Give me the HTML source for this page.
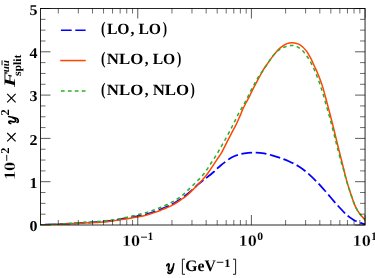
<!DOCTYPE html>
<html><head><meta charset="utf-8"><title>plot</title>
<style>html,body{margin:0;padding:0;background:#fff;}body{width:375px;height:278px;overflow:hidden;}svg{display:block;}text{font-family:"Liberation Serif",serif;font-weight:bold;fill:#000;text-rendering:geometricPrecision;}.it{font-style:italic;}</style></head><body>
<svg width="375" height="278" viewBox="0 0 375 278">
<rect x="0" y="0" width="375" height="278" fill="#fff"/>
<defs><clipPath id="ax"><rect x="40.50" y="8.50" width="324.55" height="216.50"/></clipPath></defs>
<g clip-path="url(#ax)" fill="none" stroke-width="1.5" stroke-linejoin="round">
<path d="M40.50 224.90 C45.75 224.67 62.08 224.02 72.00 223.50 C81.92 222.98 93.20 222.32 100.00 221.80 C106.80 221.28 108.53 221.00 112.80 220.40 C117.07 219.80 121.33 218.93 125.60 218.20 C129.87 217.47 135.17 216.60 138.40 216.00 C141.63 215.40 142.10 215.40 145.00 214.60 C147.90 213.80 152.20 212.50 155.80 211.20 C159.40 209.90 163.57 208.13 166.60 206.80 C169.63 205.47 171.30 204.75 174.00 203.20 C176.70 201.65 179.80 199.68 182.80 197.50 C185.80 195.32 189.57 192.20 192.00 190.10 C194.43 188.00 195.60 186.48 197.40 184.90 C199.20 183.32 201.37 181.72 202.80 180.60 C204.23 179.48 204.20 179.63 206.00 178.20 C207.80 176.77 211.77 173.60 213.60 172.00 C215.43 170.40 215.77 169.73 217.00 168.60 C218.23 167.47 219.77 166.20 221.00 165.20 C222.23 164.20 222.57 163.93 224.40 162.60 C226.23 161.27 229.40 158.58 232.00 157.20 C234.60 155.82 237.33 155.02 240.00 154.30 C242.67 153.58 245.33 153.18 248.00 152.90 C250.67 152.62 253.33 152.52 256.00 152.60 C258.67 152.68 261.33 152.95 264.00 153.40 C266.67 153.85 269.43 154.58 272.00 155.30 C274.57 156.02 276.62 156.72 279.40 157.70 C282.18 158.68 285.58 159.82 288.70 161.20 C291.82 162.58 294.98 164.07 298.10 166.00 C301.22 167.93 304.28 170.17 307.40 172.80 C310.52 175.43 313.68 178.58 316.80 181.80 C319.92 185.02 323.30 188.92 326.10 192.10 C328.90 195.28 331.28 198.25 333.60 200.90 C335.92 203.55 338.00 205.83 340.00 208.00 C342.00 210.17 344.02 212.38 345.60 213.90 C347.18 215.42 347.93 215.97 349.50 217.10 C351.07 218.23 352.92 219.67 355.00 220.70 C357.08 221.73 360.30 222.70 362.00 223.30 C363.70 223.90 364.67 224.13 365.20 224.30" stroke="#0000ff" stroke-width="1.75" stroke-dasharray="10.8 3.6" stroke-dashoffset="9.9"/>
<path d="M40.50 224.90 C42.92 224.83 49.75 224.70 55.00 224.50 C60.25 224.30 66.33 223.98 72.00 223.70 C77.67 223.42 84.33 223.03 89.00 222.80 C93.67 222.57 96.03 222.60 100.00 222.30 C103.97 222.00 108.53 221.57 112.80 221.00 C117.07 220.43 121.33 219.60 125.60 218.90 C129.87 218.20 135.17 217.38 138.40 216.80 C141.63 216.22 143.00 215.90 145.00 215.40 C147.00 214.90 148.60 214.35 150.40 213.80 C152.20 213.25 154.00 212.73 155.80 212.10 C157.60 211.47 159.40 210.72 161.20 210.00 C163.00 209.28 164.88 208.53 166.60 207.80 C168.32 207.07 169.67 206.57 171.50 205.60 C173.33 204.63 175.72 203.20 177.60 202.00 C179.48 200.80 181.30 199.45 182.80 198.40 C184.30 197.35 185.07 197.00 186.60 195.70 C188.13 194.40 190.20 192.35 192.00 190.60 C193.80 188.85 195.60 187.05 197.40 185.20 C199.20 183.35 201.45 181.00 202.80 179.50 C204.15 178.00 204.60 177.33 205.50 176.20 C206.40 175.07 207.03 174.35 208.20 172.70 C209.37 171.05 210.93 168.65 212.50 166.30 C214.07 163.95 216.18 160.70 217.60 158.60 C219.02 156.50 219.83 155.67 221.00 153.70 C222.17 151.73 223.32 149.30 224.60 146.80 C225.88 144.30 227.38 141.28 228.70 138.70 C230.02 136.12 231.35 133.48 232.50 131.30 C233.65 129.12 234.65 127.48 235.60 125.60 C236.55 123.72 237.30 122.00 238.20 120.00 C239.10 118.00 240.27 115.33 241.00 113.60 C241.73 111.87 241.78 111.37 242.60 109.60 C243.42 107.83 244.82 105.08 245.90 103.00 C246.98 100.92 248.13 99.00 249.10 97.10 C250.07 95.20 250.73 93.55 251.70 91.60 C252.67 89.65 253.83 87.43 254.90 85.40 C255.97 83.37 257.03 81.38 258.10 79.40 C259.17 77.42 260.25 75.40 261.30 73.50 C262.35 71.60 263.12 69.98 264.40 68.00 C265.68 66.02 267.55 63.62 269.00 61.60 C270.45 59.58 271.75 57.67 273.10 55.90 C274.45 54.13 275.75 52.45 277.10 51.00 C278.45 49.55 279.85 48.28 281.20 47.20 C282.55 46.12 283.85 45.18 285.20 44.50 C286.55 43.82 288.02 43.38 289.30 43.10 C290.58 42.82 291.78 42.77 292.90 42.80 C294.02 42.83 295.02 43.07 296.00 43.30 C296.98 43.53 297.72 43.62 298.80 44.20 C299.88 44.78 301.25 45.68 302.50 46.80 C303.75 47.92 305.27 49.60 306.30 50.90 C307.33 52.20 307.87 53.20 308.70 54.60 C309.53 56.00 310.37 57.40 311.30 59.30 C312.23 61.20 313.33 63.88 314.30 66.00 C315.27 68.12 316.12 69.72 317.10 72.00 C318.08 74.28 319.18 76.93 320.20 79.70 C321.22 82.47 322.10 84.88 323.20 88.60 C324.30 92.32 325.62 97.55 326.80 102.00 C327.98 106.45 329.15 110.83 330.30 115.30 C331.45 119.77 332.61 124.35 333.72 128.80 C334.83 133.25 335.94 137.97 336.94 142.00 C337.94 146.03 338.93 149.95 339.69 153.00 C340.45 156.05 340.90 157.80 341.52 160.30 C342.14 162.80 342.75 165.32 343.42 168.00 C344.09 170.68 344.83 173.75 345.52 176.40 C346.21 179.05 346.87 181.50 347.57 183.90 C348.27 186.30 349.05 188.68 349.73 190.80 C350.41 192.92 350.95 194.55 351.66 196.60 C352.37 198.65 353.13 201.00 353.98 203.10 C354.83 205.20 355.74 207.33 356.75 209.20 C357.76 211.07 358.63 212.50 360.04 214.30 C361.45 216.10 364.34 219.05 365.20 220.00" stroke="#ff4500" stroke-linecap="square"/>
<path d="M40.50 224.80 C44.08 224.67 57.02 224.25 62.00 224.00 C66.98 223.75 66.73 223.58 70.40 223.30 C74.07 223.02 79.45 222.62 84.00 222.30 C88.55 221.98 94.28 221.63 97.70 221.40 C101.12 221.17 102.20 221.12 104.50 220.90 C106.80 220.68 109.15 220.43 111.50 220.10 C113.85 219.77 116.35 219.32 118.60 218.90 C120.85 218.48 122.77 218.08 125.00 217.60 C127.23 217.12 129.77 216.50 132.00 216.00 C134.23 215.50 136.15 215.13 138.40 214.60 C140.65 214.07 143.23 213.47 145.50 212.80 C147.77 212.13 149.83 211.37 152.00 210.60 C154.17 209.83 156.33 209.05 158.50 208.20 C160.67 207.35 162.93 206.42 165.00 205.50 C167.07 204.58 168.93 203.75 170.90 202.70 C172.87 201.65 174.90 200.42 176.80 199.20 C178.70 197.98 180.58 196.78 182.30 195.40 C184.02 194.02 185.40 192.50 187.10 190.90 C188.80 189.30 190.78 187.47 192.50 185.80 C194.22 184.13 195.77 182.57 197.40 180.90 C199.03 179.23 200.77 177.62 202.30 175.80 C203.83 173.98 205.25 171.95 206.60 170.00 C207.95 168.05 209.12 166.05 210.40 164.10 C211.68 162.15 213.07 160.22 214.30 158.30 C215.53 156.38 216.65 154.55 217.80 152.60 C218.95 150.65 220.07 148.60 221.20 146.60 C222.33 144.60 223.48 142.60 224.60 140.60 C225.72 138.60 226.80 136.65 227.90 134.60 C229.00 132.55 230.15 130.33 231.20 128.30 C232.25 126.27 233.20 124.42 234.20 122.40 C235.20 120.38 236.13 118.28 237.20 116.20 C238.27 114.12 239.45 111.93 240.60 109.90 C241.75 107.87 242.98 105.97 244.10 104.00 C245.22 102.03 246.25 100.20 247.30 98.10 C248.35 96.00 249.32 93.53 250.40 91.40 C251.48 89.27 252.70 87.32 253.80 85.30 C254.90 83.28 255.83 81.28 257.00 79.30 C258.17 77.32 259.53 75.23 260.80 73.40 C262.07 71.57 263.33 70.15 264.60 68.30 C265.87 66.45 267.12 64.25 268.40 62.30 C269.68 60.35 270.93 58.35 272.30 56.60 C273.67 54.85 275.23 53.08 276.60 51.80 C277.97 50.52 279.27 49.65 280.50 48.90 C281.73 48.15 282.83 47.77 284.00 47.30 C285.17 46.83 286.42 46.38 287.50 46.10 C288.58 45.82 289.50 45.70 290.50 45.60 C291.50 45.50 292.43 45.33 293.50 45.50 C294.57 45.67 295.85 46.13 296.90 46.60 C297.95 47.07 298.87 47.63 299.80 48.30 C300.73 48.97 301.33 49.32 302.50 50.60 C303.67 51.88 305.52 54.20 306.80 56.00 C308.08 57.80 309.10 59.43 310.20 61.40 C311.30 63.37 312.40 65.67 313.40 67.80 C314.40 69.93 315.13 71.53 316.20 74.20 C317.27 76.87 318.67 80.53 319.80 83.80 C320.93 87.07 321.83 89.90 323.00 93.80 C324.17 97.70 325.55 102.75 326.80 107.20 C328.05 111.65 329.30 116.03 330.50 120.50 C331.70 124.97 332.87 129.55 334.00 134.00 C335.13 138.45 336.15 142.70 337.30 147.20 C338.45 151.70 339.93 157.53 340.90 161.00 C341.87 164.47 342.37 165.43 343.10 168.00 C343.83 170.57 344.58 173.75 345.30 176.40 C346.02 179.05 346.71 181.50 347.45 183.90 C348.19 186.30 349.03 188.68 349.73 190.80 C350.43 192.92 350.95 194.55 351.66 196.60 C352.37 198.65 353.13 201.00 353.98 203.10 C354.83 205.20 355.74 207.33 356.75 209.20 C357.76 211.07 358.63 212.50 360.04 214.30 C361.45 216.10 364.34 219.05 365.20 220.00" stroke="#28ae28" stroke-dasharray="3.6 3.35" stroke-dashoffset="-1.0"/>
</g>
<g stroke="#000" fill="none"><line x1="58.31" y1="225.00" x2="58.31" y2="220.00" stroke-width="0.58"/><line x1="58.31" y1="8.50" x2="58.31" y2="13.50" stroke-width="0.58"/><line x1="78.32" y1="225.00" x2="78.32" y2="220.00" stroke-width="0.58"/><line x1="78.32" y1="8.50" x2="78.32" y2="13.50" stroke-width="0.58"/><line x1="92.52" y1="225.00" x2="92.52" y2="220.00" stroke-width="0.58"/><line x1="92.52" y1="8.50" x2="92.52" y2="13.50" stroke-width="0.58"/><line x1="103.54" y1="225.00" x2="103.54" y2="220.00" stroke-width="0.58"/><line x1="103.54" y1="8.50" x2="103.54" y2="13.50" stroke-width="0.58"/><line x1="112.54" y1="225.00" x2="112.54" y2="220.00" stroke-width="0.58"/><line x1="112.54" y1="8.50" x2="112.54" y2="13.50" stroke-width="0.58"/><line x1="120.15" y1="225.00" x2="120.15" y2="220.00" stroke-width="0.58"/><line x1="120.15" y1="8.50" x2="120.15" y2="13.50" stroke-width="0.58"/><line x1="126.74" y1="225.00" x2="126.74" y2="220.00" stroke-width="0.58"/><line x1="126.74" y1="8.50" x2="126.74" y2="13.50" stroke-width="0.58"/><line x1="132.55" y1="225.00" x2="132.55" y2="220.00" stroke-width="0.58"/><line x1="132.55" y1="8.50" x2="132.55" y2="13.50" stroke-width="0.58"/><line x1="137.75" y1="225.00" x2="137.75" y2="215.00" stroke-width="0.65"/><line x1="137.75" y1="8.50" x2="137.75" y2="18.50" stroke-width="0.65"/><line x1="171.96" y1="225.00" x2="171.96" y2="220.00" stroke-width="0.58"/><line x1="171.96" y1="8.50" x2="171.96" y2="13.50" stroke-width="0.58"/><line x1="191.97" y1="225.00" x2="191.97" y2="220.00" stroke-width="0.58"/><line x1="191.97" y1="8.50" x2="191.97" y2="13.50" stroke-width="0.58"/><line x1="206.17" y1="225.00" x2="206.17" y2="220.00" stroke-width="0.58"/><line x1="206.17" y1="8.50" x2="206.17" y2="13.50" stroke-width="0.58"/><line x1="217.19" y1="225.00" x2="217.19" y2="220.00" stroke-width="0.58"/><line x1="217.19" y1="8.50" x2="217.19" y2="13.50" stroke-width="0.58"/><line x1="226.19" y1="225.00" x2="226.19" y2="220.00" stroke-width="0.58"/><line x1="226.19" y1="8.50" x2="226.19" y2="13.50" stroke-width="0.58"/><line x1="233.80" y1="225.00" x2="233.80" y2="220.00" stroke-width="0.58"/><line x1="233.80" y1="8.50" x2="233.80" y2="13.50" stroke-width="0.58"/><line x1="240.39" y1="225.00" x2="240.39" y2="220.00" stroke-width="0.58"/><line x1="240.39" y1="8.50" x2="240.39" y2="13.50" stroke-width="0.58"/><line x1="246.20" y1="225.00" x2="246.20" y2="220.00" stroke-width="0.58"/><line x1="246.20" y1="8.50" x2="246.20" y2="13.50" stroke-width="0.58"/><line x1="251.40" y1="225.00" x2="251.40" y2="215.00" stroke-width="0.65"/><line x1="251.40" y1="8.50" x2="251.40" y2="18.50" stroke-width="0.65"/><line x1="285.61" y1="225.00" x2="285.61" y2="220.00" stroke-width="0.58"/><line x1="285.61" y1="8.50" x2="285.61" y2="13.50" stroke-width="0.58"/><line x1="305.62" y1="225.00" x2="305.62" y2="220.00" stroke-width="0.58"/><line x1="305.62" y1="8.50" x2="305.62" y2="13.50" stroke-width="0.58"/><line x1="319.82" y1="225.00" x2="319.82" y2="220.00" stroke-width="0.58"/><line x1="319.82" y1="8.50" x2="319.82" y2="13.50" stroke-width="0.58"/><line x1="330.84" y1="225.00" x2="330.84" y2="220.00" stroke-width="0.58"/><line x1="330.84" y1="8.50" x2="330.84" y2="13.50" stroke-width="0.58"/><line x1="339.84" y1="225.00" x2="339.84" y2="220.00" stroke-width="0.58"/><line x1="339.84" y1="8.50" x2="339.84" y2="13.50" stroke-width="0.58"/><line x1="347.45" y1="225.00" x2="347.45" y2="220.00" stroke-width="0.58"/><line x1="347.45" y1="8.50" x2="347.45" y2="13.50" stroke-width="0.58"/><line x1="354.04" y1="225.00" x2="354.04" y2="220.00" stroke-width="0.58"/><line x1="354.04" y1="8.50" x2="354.04" y2="13.50" stroke-width="0.58"/><line x1="359.85" y1="225.00" x2="359.85" y2="220.00" stroke-width="0.58"/><line x1="359.85" y1="8.50" x2="359.85" y2="13.50" stroke-width="0.58"/><line x1="365.05" y1="225.00" x2="365.05" y2="215.00" stroke-width="0.65"/><line x1="365.05" y1="8.50" x2="365.05" y2="18.50" stroke-width="0.65"/><line x1="40.50" y1="225.00" x2="50.50" y2="225.00" stroke-width="0.65"/><line x1="365.05" y1="225.00" x2="355.05" y2="225.00" stroke-width="0.65"/><line x1="40.50" y1="214.18" x2="45.50" y2="214.18" stroke-width="0.58"/><line x1="365.05" y1="214.18" x2="360.05" y2="214.18" stroke-width="0.58"/><line x1="40.50" y1="203.35" x2="45.50" y2="203.35" stroke-width="0.58"/><line x1="365.05" y1="203.35" x2="360.05" y2="203.35" stroke-width="0.58"/><line x1="40.50" y1="192.53" x2="45.50" y2="192.53" stroke-width="0.58"/><line x1="365.05" y1="192.53" x2="360.05" y2="192.53" stroke-width="0.58"/><line x1="40.50" y1="181.70" x2="50.50" y2="181.70" stroke-width="0.65"/><line x1="365.05" y1="181.70" x2="355.05" y2="181.70" stroke-width="0.65"/><line x1="40.50" y1="170.88" x2="45.50" y2="170.88" stroke-width="0.58"/><line x1="365.05" y1="170.88" x2="360.05" y2="170.88" stroke-width="0.58"/><line x1="40.50" y1="160.05" x2="45.50" y2="160.05" stroke-width="0.58"/><line x1="365.05" y1="160.05" x2="360.05" y2="160.05" stroke-width="0.58"/><line x1="40.50" y1="149.23" x2="45.50" y2="149.23" stroke-width="0.58"/><line x1="365.05" y1="149.23" x2="360.05" y2="149.23" stroke-width="0.58"/><line x1="40.50" y1="138.40" x2="50.50" y2="138.40" stroke-width="0.65"/><line x1="365.05" y1="138.40" x2="355.05" y2="138.40" stroke-width="0.65"/><line x1="40.50" y1="127.58" x2="45.50" y2="127.58" stroke-width="0.58"/><line x1="365.05" y1="127.58" x2="360.05" y2="127.58" stroke-width="0.58"/><line x1="40.50" y1="116.75" x2="45.50" y2="116.75" stroke-width="0.58"/><line x1="365.05" y1="116.75" x2="360.05" y2="116.75" stroke-width="0.58"/><line x1="40.50" y1="105.93" x2="45.50" y2="105.93" stroke-width="0.58"/><line x1="365.05" y1="105.93" x2="360.05" y2="105.93" stroke-width="0.58"/><line x1="40.50" y1="95.10" x2="50.50" y2="95.10" stroke-width="0.65"/><line x1="365.05" y1="95.10" x2="355.05" y2="95.10" stroke-width="0.65"/><line x1="40.50" y1="84.28" x2="45.50" y2="84.28" stroke-width="0.58"/><line x1="365.05" y1="84.28" x2="360.05" y2="84.28" stroke-width="0.58"/><line x1="40.50" y1="73.45" x2="45.50" y2="73.45" stroke-width="0.58"/><line x1="365.05" y1="73.45" x2="360.05" y2="73.45" stroke-width="0.58"/><line x1="40.50" y1="62.62" x2="45.50" y2="62.62" stroke-width="0.58"/><line x1="365.05" y1="62.62" x2="360.05" y2="62.62" stroke-width="0.58"/><line x1="40.50" y1="51.80" x2="50.50" y2="51.80" stroke-width="0.65"/><line x1="365.05" y1="51.80" x2="355.05" y2="51.80" stroke-width="0.65"/><line x1="40.50" y1="40.98" x2="45.50" y2="40.98" stroke-width="0.58"/><line x1="365.05" y1="40.98" x2="360.05" y2="40.98" stroke-width="0.58"/><line x1="40.50" y1="30.15" x2="45.50" y2="30.15" stroke-width="0.58"/><line x1="365.05" y1="30.15" x2="360.05" y2="30.15" stroke-width="0.58"/><line x1="40.50" y1="19.33" x2="45.50" y2="19.33" stroke-width="0.58"/><line x1="365.05" y1="19.33" x2="360.05" y2="19.33" stroke-width="0.58"/><line x1="40.50" y1="8.50" x2="50.50" y2="8.50" stroke-width="0.65"/><line x1="365.05" y1="8.50" x2="355.05" y2="8.50" stroke-width="0.65"/></g>
<rect x="40.50" y="8.50" width="324.55" height="216.50" fill="none" stroke="#000" stroke-width="0.85"/>
<g fill="none" stroke-width="1.5">
<path d="M60.9 30.25 H85.6" stroke="#0000ff" stroke-width="1.7" stroke-dasharray="10.8 3.6"/>
<path d="M61.0 60.55 H85.0" stroke="#ff4500" stroke-linecap="square"/>
<path d="M60.9 91.0 H85.6" stroke="#28ae28" stroke-dasharray="3.75 3.2"/>
</g>
<g style="filter:grayscale(1)">
<text x="37.4" y="231.30" font-size="15" text-anchor="end" textLength="8" lengthAdjust="spacingAndGlyphs">0</text>
<text x="37.4" y="188.00" font-size="15" text-anchor="end" textLength="8" lengthAdjust="spacingAndGlyphs">1</text>
<text x="37.4" y="144.70" font-size="15" text-anchor="end" textLength="8" lengthAdjust="spacingAndGlyphs">2</text>
<text x="37.4" y="101.40" font-size="15" text-anchor="end" textLength="8" lengthAdjust="spacingAndGlyphs">3</text>
<text x="37.4" y="58.10" font-size="15" text-anchor="end" textLength="8" lengthAdjust="spacingAndGlyphs">4</text>
<text x="37.4" y="14.80" font-size="15" text-anchor="end" textLength="8" lengthAdjust="spacingAndGlyphs">5</text>
<text x="122.00" y="246" font-size="16" textLength="18.2" lengthAdjust="spacingAndGlyphs" stroke="#fff" stroke-width="0.28">10</text>
<rect x="141.00" y="236.7" width="6.0" height="0.9" fill="#000"/>
<text x="147.80" y="240.3" font-size="11.3" textLength="5.40" lengthAdjust="spacingAndGlyphs">1</text>
<text x="238.60" y="246" font-size="16" textLength="18.2" lengthAdjust="spacingAndGlyphs" stroke="#fff" stroke-width="0.28">10</text>
<text x="257.20" y="240.3" font-size="11.3" textLength="5.80" lengthAdjust="spacingAndGlyphs">0</text>
<text x="352.60" y="246" font-size="16" textLength="18.2" lengthAdjust="spacingAndGlyphs" stroke="#fff" stroke-width="0.28">10</text>
<text x="371.20" y="240.3" font-size="11.3" textLength="5.40" lengthAdjust="spacingAndGlyphs">1</text>
<g transform="translate(166.3 271.3)"><path d="M0.5,-5.6 C0.9,-7.3 2.9,-8.3 2.8,-6.0 L2.2,-2.9 C1.9,-0.9 2.9,-0.3 3.9,-0.5 C5.1,-0.8 5.9,-2.1 6.3,-3.5" fill="none" stroke="#000" stroke-width="1.75" stroke-linecap="round" stroke-linejoin="round"/><path d="M7.5,-7.5 L6.0,-0.7 C5.5,1.3 4.3,2.1 3.0,2.1 C1.9,2.1 1.4,1.5 1.7,0.9" fill="none" stroke="#000" stroke-width="1.6" stroke-linecap="round" stroke-linejoin="round"/></g>
<path d="M185.0 259.2 H182.4 V274.3 H185.0" fill="none" stroke="#000" stroke-width="0.9"/>
<text x="185.2" y="271.3" font-size="16" textLength="30.6" lengthAdjust="spacingAndGlyphs">GeV</text>
<rect x="216.8" y="261.8" width="6.6" height="0.9" fill="#000"/>
<text x="224.2" y="267.3" font-size="11.5" textLength="6.2" lengthAdjust="spacingAndGlyphs">1</text>
<path d="M233.0 259.2 H235.6 V274.3 H233.0" fill="none" stroke="#000" stroke-width="0.9"/>
<g transform="translate(15.2 0) rotate(-90)">
<text x="-180.1" y="0" font-size="16" textLength="18.2" lengthAdjust="spacingAndGlyphs" stroke="#fff" stroke-width="0.28">10</text>
<rect x="-160.8" y="-8.9" width="6.0" height="0.9" fill="#000"/>
<text x="-153.8" y="-6.7" font-size="12" textLength="6.2" lengthAdjust="spacingAndGlyphs">2</text>
<g transform="translate(-124.0 1.0)"><path d="M0.5,-5.6 C0.9,-7.3 2.9,-8.3 2.8,-6.0 L2.2,-2.9 C1.9,-0.9 2.9,-0.3 3.9,-0.5 C5.1,-0.8 5.9,-2.1 6.3,-3.5" fill="none" stroke="#000" stroke-width="1.75" stroke-linecap="round" stroke-linejoin="round"/><path d="M7.5,-7.5 L6.0,-0.7 C5.5,1.3 4.3,2.1 3.0,2.1 C1.9,2.1 1.4,1.5 1.7,0.9" fill="none" stroke="#000" stroke-width="1.6" stroke-linecap="round" stroke-linejoin="round"/></g>
<text x="-115.6" y="-6.1" font-size="12" textLength="6.2" lengthAdjust="spacingAndGlyphs">2</text>
<text class="it" x="-86.9" y="-0.1" font-size="16" textLength="15.5" lengthAdjust="spacingAndGlyphs">F</text>
<text class="it" x="-72.3" y="-6.3" font-size="10.6" textLength="12.2" lengthAdjust="spacingAndGlyphs">uu</text>
<rect x="-65.2" y="-13.6" width="4.8" height="0.9" fill="#000"/>
<text x="-76.1" y="5.7" font-size="11.2" textLength="21.6" lengthAdjust="spacingAndGlyphs">split</text>
</g>
<path d="M7.20 133.00 L15.60 141.40 M7.20 141.40 L15.60 133.00" stroke="#000" stroke-width="1.15" fill="none"/>
<path d="M7.20 93.90 L15.60 102.30 M7.20 102.30 L15.60 93.90" stroke="#000" stroke-width="1.15" fill="none"/>
<text x="101.00" y="34.30" font-size="17.5" textLength="4.50" lengthAdjust="spacingAndGlyphs">(</text>
<text x="106.90" y="34.40" font-size="15.5" textLength="22.70" lengthAdjust="spacingAndGlyphs">LO</text>
<text x="130.50" y="34.40" font-size="15.5" textLength="4.00" lengthAdjust="spacingAndGlyphs">,</text>
<text x="138.40" y="34.40" font-size="15.5" textLength="22.70" lengthAdjust="spacingAndGlyphs">LO</text>
<text x="162.70" y="34.30" font-size="17.5" textLength="4.30" lengthAdjust="spacingAndGlyphs">)</text>
<text x="101.00" y="64.35" font-size="17.5" textLength="4.50" lengthAdjust="spacingAndGlyphs">(</text>
<text x="106.80" y="64.45" font-size="15.5" textLength="36.50" lengthAdjust="spacingAndGlyphs">NLO</text>
<text x="144.70" y="64.45" font-size="15.5" textLength="3.80" lengthAdjust="spacingAndGlyphs">,</text>
<text x="152.70" y="64.45" font-size="15.5" textLength="22.60" lengthAdjust="spacingAndGlyphs">LO</text>
<text x="176.90" y="64.35" font-size="17.5" textLength="4.30" lengthAdjust="spacingAndGlyphs">)</text>
<text x="101.00" y="94.50" font-size="17.5" textLength="4.50" lengthAdjust="spacingAndGlyphs">(</text>
<text x="106.80" y="94.60" font-size="15.5" textLength="36.50" lengthAdjust="spacingAndGlyphs">NLO</text>
<text x="144.70" y="94.60" font-size="15.5" textLength="3.80" lengthAdjust="spacingAndGlyphs">,</text>
<text x="152.70" y="94.60" font-size="15.5" textLength="36.50" lengthAdjust="spacingAndGlyphs">NLO</text>
<text x="190.60" y="94.50" font-size="17.5" textLength="4.30" lengthAdjust="spacingAndGlyphs">)</text>
</g>
</svg></body></html>
